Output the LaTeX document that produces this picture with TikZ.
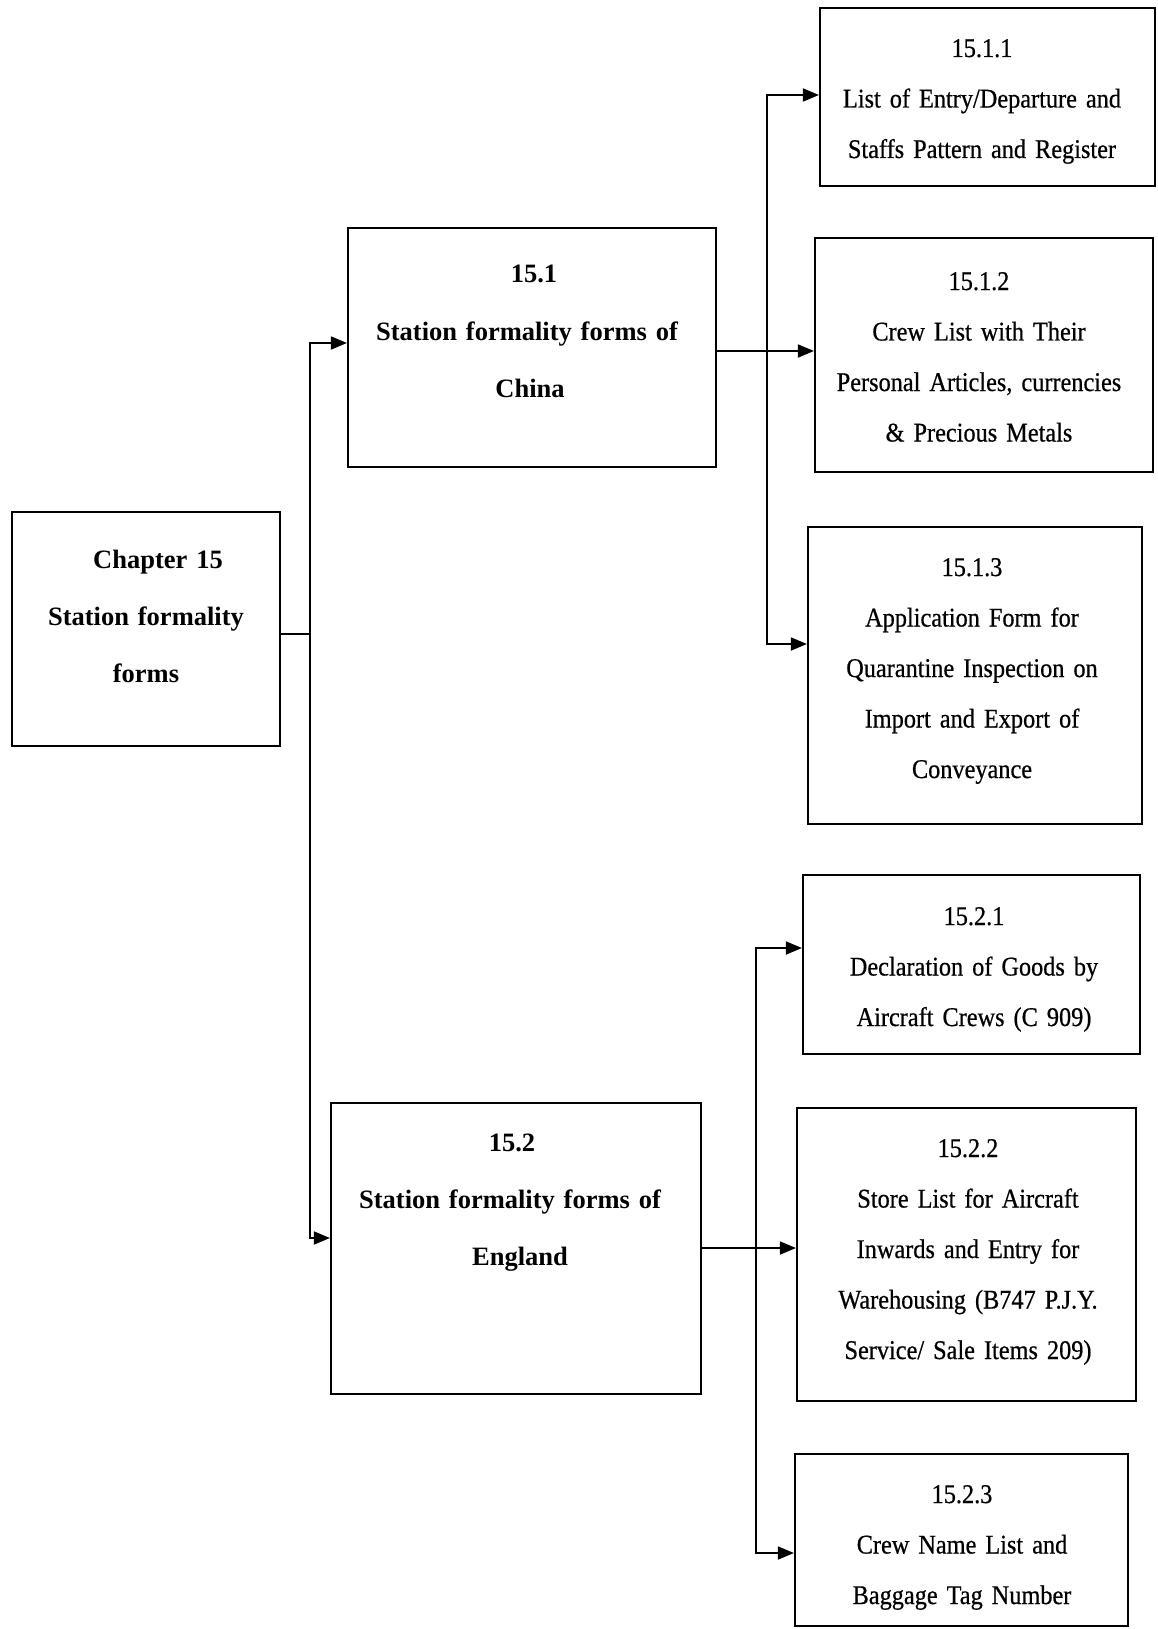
\documentclass[tikz,border=0pt]{standalone}
\usepackage{fontspec}
\setmainfont{Liberation Serif}
\newfontfamily\formfont{Liberation Serif}[FakeStretch=0.9, WordSpace=0.7, FakeBold=0.6]
\usetikzlibrary{arrows.meta}
\begin{document}
\begin{tikzpicture}[x=1pt,y=-1pt,
  box/.style={draw=black, line width=2.2pt, rectangle, inner sep=0pt},
  headtext/.style={anchor=base, align=center, text width=360pt, inner sep=0pt,
    font=\bfseries\fontsize{26.5}{57}\selectfont},
  formtext/.style={anchor=base, align=center, text width=330pt, inner sep=0pt,
    font=\formfont\fontsize{27}{50.5}\selectfont},
  link/.style={line width=1.8pt, line join=miter},
  arrowlink/.style={link, -{Triangle[length=16pt,width=13pt]}}
]
% page
\fill[white] (0,0) rectangle (1157,1629);
\useasboundingbox (0,0) rectangle (1157,1629);

% boxes
\node[box, minimum width=268pt, minimum height=234pt] (ch)    at (146,629)    {};
\node[box, minimum width=368pt, minimum height=239pt] (b151)  at (532,347.5)  {};
\node[box, minimum width=370pt, minimum height=291pt] (b152)  at (516,1248.5) {};
\node[box, minimum width=335pt, minimum height=178pt] (b1511) at (987.5,97)   {};
\node[box, minimum width=338pt, minimum height=234pt] (b1512) at (984,355)    {};
\node[box, minimum width=334pt, minimum height=297pt] (b1513) at (975,675.5)  {};
\node[box, minimum width=337pt, minimum height=179pt] (b1521) at (971.5,964.5){};
\node[box, minimum width=339pt, minimum height=293pt] (b1522) at (966.5,1254.5){};
\node[box, minimum width=333pt, minimum height=172pt] (b1523) at (961.5,1540) {};

% texts
\node[headtext] (tch)  at (146,568)
  {\hspace*{24pt}Chapter 15\\Station formality\hspace*{22pt}\\forms\hspace*{6pt}};
\node[headtext] (t151) at (527,283)
  {\hspace*{14pt}15.1\\Station formality forms of\hspace*{18pt}\\\hspace*{6pt}China};
\node[headtext] (t152) at (510,1151)
  {\hspace*{4pt}15.2\\Station formality forms of\hspace*{18pt}\\\hspace*{20pt}England};
\node[formtext] (t1511) at (982,57) {15.1.1\\List of Entry/Departure and\\Staffs Pattern and Register};
\node[formtext] (t1512) at (979,290) {15.1.2\\Crew List with Their\\Personal Articles, currencies\\\& Precious Metals};
\node[formtext] (t1513) at (972,576) {15.1.3\\Application Form for\\Quarantine Inspection on\\Import and Export of\\Conveyance};
\node[formtext] (t1521) at (974,925) {15.2.1\\Declaration of Goods by\\Aircraft Crews (C 909)};
\node[formtext] (t1522) at (968,1157) {15.2.2\\Store List for Aircraft\\Inwards and Entry for\\Warehousing (B747 P.J.Y.\\Service/ Sale Items 209)};
\node[formtext] (t1523) at (962,1503) {15.2.3\\Crew Name List and\\Baggage Tag Number};

% chapter to sections
\coordinate (j0) at (310,634);
\draw[link] (ch.east |- j0) -- (j0);
\draw[arrowlink] (j0) |- (b151.west |- 0,343);
\draw[arrowlink] (j0) |- (b152.west |- 0,1238);

% section 15.1 to its forms
\coordinate (j1) at (767,351);
\draw[arrowlink] (b151.east |- j1) -- (b1512.west |- j1);
\draw[arrowlink] (j1) |- (b1511.west |- 0,95);
\draw[arrowlink] (j1) |- (b1513.west |- 0,644);

% section 15.2 to its forms
\coordinate (j2) at (756,1248);
\draw[arrowlink] (b152.east |- j2) -- (b1522.west |- j2);
\draw[arrowlink] (j2) |- (b1521.west |- 0,948);
\draw[arrowlink] (j2) |- (b1523.west |- 0,1553);
\end{tikzpicture}
\end{document}
